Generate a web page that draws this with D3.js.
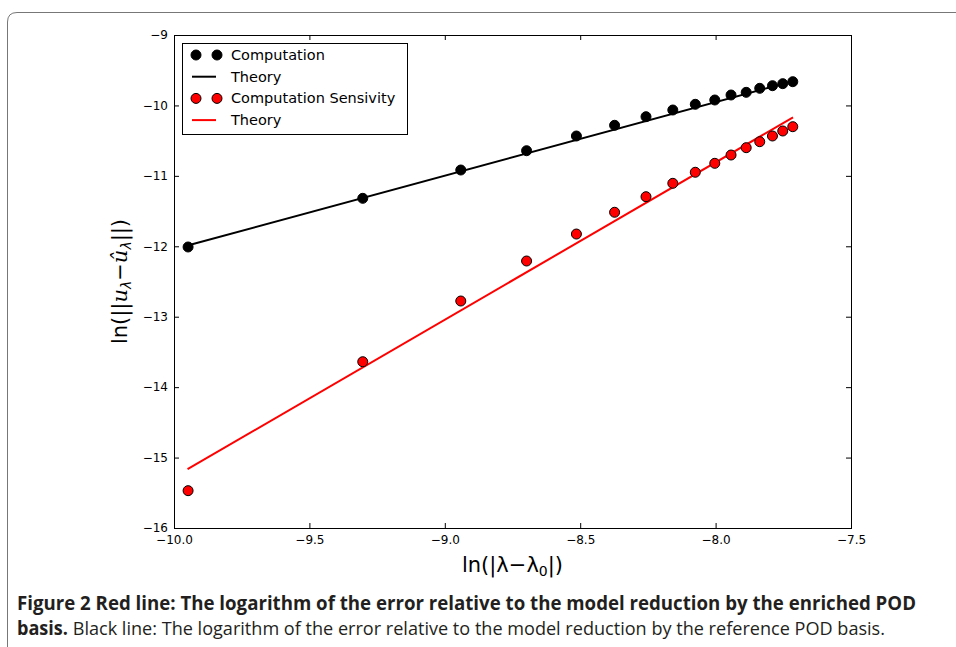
<!DOCTYPE html>
<html><head><meta charset="utf-8">
<script src="https://cdnjs.cloudflare.com/ajax/libs/d3/7.8.5/d3.min.js"></script>
<style>body{margin:0;background:#fff;} svg{display:block;}</style>
</head><body>
<script>
// ---- data ----
const xValues = [-9.948, -9.303, -8.941, -8.698, -8.514, -8.373, -8.257, -8.158, -8.075, -8.003, -7.943, -7.887, -7.837, -7.790, -7.752, -7.715];
const computation = [-12.010, -11.319, -10.917, -10.643, -10.434, -10.282, -10.160, -10.065, -9.984, -9.923, -9.852, -9.814, -9.757, -9.720, -9.691, -9.663];
const sensitivity = [-15.470, -13.639, -12.777, -12.209, -11.826, -11.517, -11.296, -11.106, -10.949, -10.822, -10.704, -10.600, -10.515, -10.434, -10.363, -10.302];
const theoryX = [-9.950, -7.714];
const theoryBlack = [-11.99, -9.655];
const theoryRed = [-15.165, -10.17];
const xTicks = [-10.0, -9.5, -9.0, -8.5, -8.0, -7.5];
const yTicks = [-16, -15, -14, -13, -12, -11, -10, -9];
const legendLabels = ["Computation", "Theory", "Computation Sensivity", "Theory"];
const captionBold1 = "Figure 2 Red line: The logarithm of the error relative to the model reduction by the enriched POD";
const captionBold2 = "basis.";
const captionRegular2 = " Black line: The logarithm of the error relative to the model reduction by the reference POD basis.";

const W = 956, H = 647;
const svg = d3.select("body").append("svg").attr("width", W).attr("height", H);

// outer figure frame (rounded top-left corner)
svg.append("path")
  .attr("d", "M7.5,660 L7.5,22 Q7.5,12.5 17,12.5 L970,12.5")
  .attr("fill", "none").attr("stroke", "#777").attr("stroke-width", 1);

const L = 174, R = 851, T = 35, B = 528;
const x = d3.scaleLinear().domain([-10, -7.5]).range([L, R]);
const y = d3.scaleLinear().domain([-16, -9]).range([B, T]);

const tickFont = "DejaVu Sans, sans-serif";
const fmtX = d3.format(".1f"), fmtY = d3.format("d");

// axes with inward ticks
const gB = svg.append("g").attr("transform", `translate(0,${B})`)
  .call(d3.axisBottom(x).tickValues(xTicks).tickFormat(fmtX).tickSizeInner(-5).tickSizeOuter(0).tickPadding(7));
const gT = svg.append("g").attr("transform", `translate(0,${T})`)
  .call(d3.axisTop(x).tickValues(xTicks).tickFormat("").tickSizeInner(-5).tickSizeOuter(0));
const gL = svg.append("g").attr("transform", `translate(${L},0)`)
  .call(d3.axisLeft(y).tickValues(yTicks).tickFormat(fmtY).tickSizeInner(-5).tickSizeOuter(0).tickPadding(6));
const gR = svg.append("g").attr("transform", `translate(${R},0)`)
  .call(d3.axisRight(y).tickValues(yTicks).tickFormat("").tickSizeInner(-5).tickSizeOuter(0));
[gB, gT, gL, gR].forEach(g => {
  g.select(".domain").remove();
  g.selectAll("line").attr("stroke", "#000").attr("stroke-width", 1);
  g.selectAll("text").attr("font-family", tickFont).attr("font-size", 12).attr("fill", "#000");
});
gL.selectAll("text").attr("dy", "0.32em");

svg.append("rect").attr("x", L + 0.5).attr("y", T + 0.5).attr("width", R - L).attr("height", B - T)
  .attr("fill", "none").attr("stroke", "#000").attr("stroke-width", 1);

// theory lines
const line = d3.line().x(d => x(d[0])).y(d => y(d[1]));
svg.append("path").datum(theoryX.map((v, i) => [v, theoryBlack[i]]))
  .attr("d", line).attr("fill", "none").attr("stroke", "#000").attr("stroke-width", 2);
svg.append("path").datum(theoryX.map((v, i) => [v, theoryRed[i]]))
  .attr("d", line).attr("fill", "none").attr("stroke", "#ff0000").attr("stroke-width", 2);

// points
svg.append("g").selectAll("circle").data(xValues.map((v, i) => [v, computation[i]])).join("circle")
  .attr("cx", d => x(d[0])).attr("cy", d => y(d[1])).attr("r", 5)
  .attr("fill", "#000").attr("stroke", "#000").attr("stroke-width", 1);
svg.append("g").selectAll("circle").data(xValues.map((v, i) => [v, sensitivity[i]])).join("circle")
  .attr("cx", d => x(d[0])).attr("cy", d => y(d[1])).attr("r", 5)
  .attr("fill", "#ff0000").attr("stroke", "#000").attr("stroke-width", 1);

// legend
const lg = svg.append("g");
lg.append("rect").attr("x", 182.5).attr("y", 43.5).attr("width", 225).attr("height", 91)
  .attr("fill", "#fff").attr("stroke", "#000").attr("stroke-width", 1);
const legendStyles = [
  {type: "pt", color: "#000"}, {type: "ln", color: "#000"},
  {type: "pt", color: "#ff0000"}, {type: "ln", color: "#ff0000"}];
legendLabels.forEach((lab, i) => {
  const cy = 55 + i * 21.7;
  const s = legendStyles[i];
  if (s.type === "pt") {
    [196, 217].forEach(cx => lg.append("circle").attr("cx", cx).attr("cy", cy).attr("r", 5)
      .attr("fill", s.color).attr("stroke", "#000").attr("stroke-width", 1));
  } else {
    lg.append("line").attr("x1", 192).attr("x2", 216).attr("y1", cy).attr("y2", cy)
      .attr("stroke", s.color).attr("stroke-width", 2);
  }
  lg.append("text").attr("x", 231).attr("y", cy).attr("dy", "0.35em")
    .attr("font-family", tickFont).attr("font-size", 14.5).attr("fill", "#000").text(lab);
});

// x axis label: ln(|λ−λ0|)
const xl = svg.append("text").attr("x", (L + R) / 2).attr("y", 572).attr("text-anchor", "middle")
  .attr("font-family", tickFont).attr("font-size", 21).attr("fill", "#000");
xl.append("tspan").text("ln(|λ−λ");
xl.append("tspan").attr("font-size", 14).attr("dy", 4).text("0");
xl.append("tspan").attr("dy", -4).text("|)");

// y axis label: ln(||uλ − ûλ||)
const yl = svg.append("text").attr("transform", `translate(127,${(T + B) / 2}) rotate(-90)`)
  .attr("text-anchor", "middle").attr("font-family", tickFont).attr("font-size", 21).attr("fill", "#000");
yl.append("tspan").text("ln(||");
yl.append("tspan").attr("font-family", "DejaVu Serif, serif").attr("font-style", "italic").text("u");
yl.append("tspan").attr("font-size", 14).attr("dy", 4).attr("font-style", "italic").text("λ");
yl.append("tspan").attr("dy", -4).text("−");
yl.append("tspan").attr("font-family", "DejaVu Serif, serif").attr("font-style", "italic").text("û");
yl.append("tspan").attr("font-size", 14).attr("dy", 4).attr("font-style", "italic").text("λ");
yl.append("tspan").attr("dy", -4).text("||)");

// caption
const capFont = "'Open Sans', 'Noto Sans', sans-serif";
svg.append("text").attr("x", 17).attr("y", 610).attr("font-family", capFont).attr("font-size", 19)
  .attr("font-weight", "bold").attr("fill", "#231f20")
  .attr("textLength", 899).attr("lengthAdjust", "spacingAndGlyphs").text(captionBold1);
const c2 = svg.append("text").attr("x", 17).attr("y", 635).attr("font-family", capFont).attr("font-size", 19)
  .attr("fill", "#231f20").attr("textLength", 868).attr("lengthAdjust", "spacingAndGlyphs");
c2.append("tspan").attr("font-weight", "bold").text(captionBold2);
c2.append("tspan").text(captionRegular2);
</script>
</body></html>
